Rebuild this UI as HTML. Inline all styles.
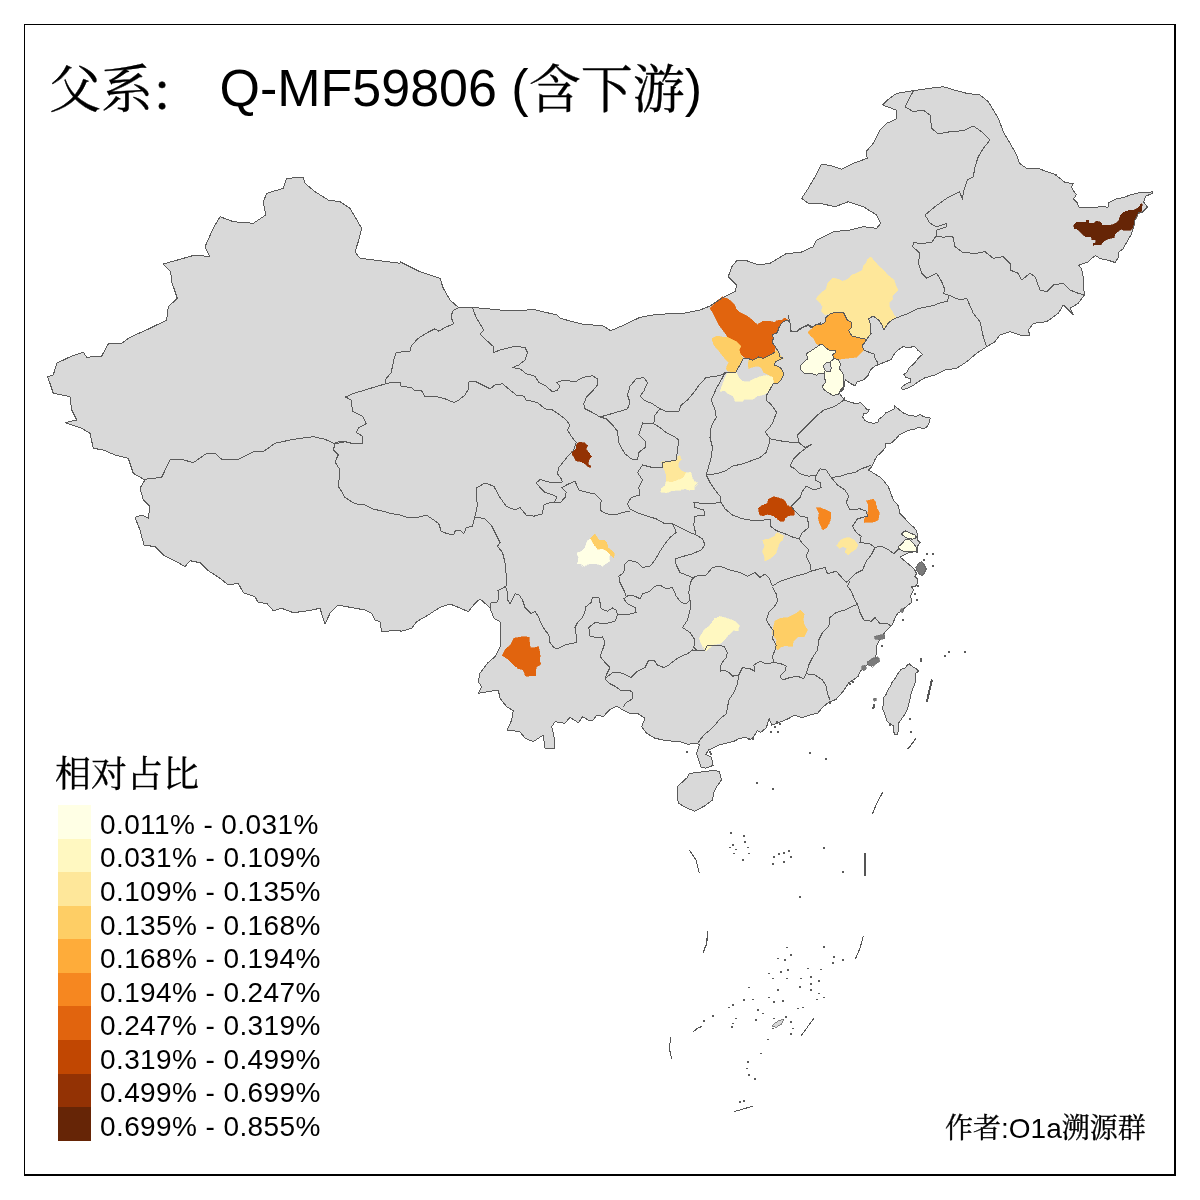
<!DOCTYPE html>
<html lang="zh"><head><meta charset="utf-8"><title>父系 Q-MF59806</title>
<style>
html,body{margin:0;padding:0;background:#fff;}
body{width:1200px;height:1200px;position:relative;overflow:hidden;font-family:"Liberation Sans","Noto Serif CJK SC",sans-serif;color:#000;}
.frame{position:absolute;left:24px;top:24px;width:1152px;height:1152px;border:solid #000;border-width:1px 2px 2px 1px;box-sizing:border-box;}
svg{position:absolute;left:0;top:0;}
.land{fill:#d9d9d9;stroke:none;}
.bd{fill:none;stroke:#5a5a5a;stroke-width:1;stroke-linejoin:round;}
.title{position:absolute;left:49px;top:54px;font-size:52px;line-height:60px;white-space:pre;}
.cj{font-family:"Noto Serif CJK SC","Liberation Serif",serif;-webkit-text-stroke:0.35px #000;}
.title .cj{position:relative;top:2px;}
.title .colon{position:relative;top:5px;left:-3px;}
.ltitle{position:absolute;left:55px;top:750px;font-size:36px;line-height:44px;white-space:pre;}
.sw{position:absolute;left:58px;width:33px;}
.lb{position:absolute;left:100px;font-size:28px;letter-spacing:0.4px;line-height:33.6px;height:33.6px;white-space:pre;margin-top:2.8px;}
.credit{position:absolute;left:945px;top:1108px;font-size:28px;line-height:36px;white-space:pre;}
</style></head><body>
<div class="frame"></div>
<svg width="1200" height="1200" viewBox="0 0 1200 1200" shape-rendering="crispEdges">
<path class="land" d="M143.3,500 140,488.3 145,480 133.3,473.3 128.3,458.3 115,455 103.3,450 93.3,448.3 90,433.3 81.7,428.3 65,422.7 76.7,420 71.7,410 70,396.7 53.3,393.3 47.7,376.7 53.3,375 56.7,363.3 71.7,356 83.3,352.3 86.7,357.3 101.7,356 108.3,344 121.7,343.3 130,337.3 150,328.3 166.7,320 168.3,306.7 177.3,298.3 171.7,281.7 170.7,271.7 163.3,264 180,259.3 195,255 210,256.7 205,246.7 213.3,228.3 220,216.7 233.3,221.7 253.3,223.3 265.7,215 263.3,201.7 266.7,193.3 283.3,188.3 286.7,178.3 303.3,177.3 305,183.3 315,191.7 328.3,200 340,201.7 350,208.3 361.7,228.3 358.3,241.7 355,251.7 360,258.3 380,260.7 400,263.3 400,261.7 420,271.7 440,278.3 443.3,288.3 450,300 458.3,307.3 471.7,307.3 500,310 521.7,310.7 533.3,309.3 556.7,315 560,318.3 581.7,324 603.3,326 610.7,330.7 621.7,326 640,317.3 656.7,314.3 683.3,313.3 700,310 710,306 721.7,298.3 735,291.7 736.7,285 728.3,276.7 731.7,266.7 736.7,260.7 746.7,260.7 758.3,265 770,263.3 786.7,253.3 800,252.7 813.3,246.7 816.7,240 833.3,231.7 850,230 863.3,226.7 876.7,228.3 880.7,223.3 876.7,215 863.3,206.7 848.3,201.7 835,206.7 820,203.3 808.3,203.3 801.7,198.3 808.3,188.3 815,176.7 821.7,164 831.7,166 841.7,169.3 853.3,163.3 867.3,158.3 866,151.7 873.3,143.3 880,130 886.7,123.3 896,119.3 896,110 882.7,105 888.3,99.3 896.7,93.3 913.3,90.7 930,88.3 943.3,86.7 956.7,90.7 966.7,93.3 980,95 988.3,101.7 993.3,110 998.3,118.3 1003.3,131.7 1010,143.3 1016.7,155 1019.3,163.3 1026.7,168.3 1038.3,168.3 1046.7,171.7 1056.7,175 1054,174 1059.5,178 1065,182.5 1073.5,183.5 1071.5,187 1074,191.5 1076.5,194.5 1073.5,199 1077,202.5 1079,207.2 1090,208 1102,206.5 1108,207.2 1109,202.5 1116,199 1124,197.5 1130,195 1140,192.5 1148,193 1152.5,191.5 1152.5,193.5 1146,196 1143.5,202 1147.5,207 1142.5,212 1138.5,213 1135,220 1133.5,228 1131,235 1128,240 1124.5,246 1123,249 1118,252.5 1118,258 1115,262.5 1109,260.5 1100,258.5 1095.5,255.5 1092,258 1088,262 1083,263.5 1078.5,265.5 1081.5,268.5 1083,276 1083.3,280 1084.3,295 1078.3,303.3 1070,308.3 1073.3,315 1063.3,305 1058.3,313.3 1046.7,321.7 1033.3,323.3 1028.3,330 1030,336 1020,335 1010,331.7 1000,335 995,341.7 986.7,346.7 976.7,353.3 966.7,361.7 956.7,368.3 945,370 935,375 923.3,378.3 925,377.8 919.2,381.2 913.3,385.3 908.7,387.7 902.2,390 901.7,387.1 906.3,383.6 910.4,382.4 911,378.3 906.3,377.8 903.8,374.2 906.9,372.5 909.2,367.8 915.1,362.6 918,358.5 922.4,354.4 918,350.3 914.5,346.6 908.7,347.4 902.8,346.8 897.6,350.3 894.1,354.4 891.2,359.7 886.5,361.4 880.7,363.8 874.8,366.1 870.2,370.2 867.8,376 863.2,380.1 857.3,381.8 855,385.9 849.8,383 845.1,379.5 844.7,385.3 842.8,390 839.2,392.9 841.6,396.4 845.1,400.5 850.3,402.2 855,403.4 860.8,402.8 864.3,406.3 866.7,409.2 869.6,409.2 867.8,412.8 863.8,413.9 862.6,416.8 864.9,420.3 869,422.7 873.7,423.2 877.8,422.7 878.9,419.2 883,416.2 885.9,412.8 890,411 894.7,408.7 894.7,405.8 899.3,409.8 904,413.3 909.8,415.7 916.8,416.2 920.3,414.5 923.8,416.8 930.2,418 929.1,422.7 926.8,426.8 923.2,429.1 919.2,427.3 914.5,429.1 908.7,430.2 904,432.6 899.3,434.9 895.8,439 891.2,443.1 885.9,443.7 885.3,447.8 881.8,451.8 877.2,455.9 874.8,460 871.7,466.7 868.3,470 875,474 881.7,478.3 888.3,486.7 893.3,500 898.5,506 900,513.5 904.5,518 908.2,522.5 913.5,527 916.5,530.8 917.7,535.2 917.2,539.8 920.2,542.8 917.2,546.5 918,552.2 913.5,551.8 907.5,553.2 903,555.5 900,557 904.5,560.8 909.8,565.2 914.2,569 916.5,573.5 915,576.5 918,579.5 917.2,584 915,587 911.2,586.2 913.5,590 910.5,596 912,602 908.2,605 904.5,608 901.5,611 897.8,613.2 894.8,618.5 892.5,624.5 889.5,627.5 886.5,630.5 883.5,634.2 880.5,638.8 878.2,642.5 876,647 876.8,653 874.5,659 871.5,662 867,665 860,671.7 858,676.5 848.8,682.9 843.3,691.2 836,699.4 828.7,702.2 822.2,707.7 817.7,713.2 810.3,715 802.1,717.8 794.8,715 788.3,718.7 781.9,721.4 777.3,723.2 771.8,725.1 769.1,718.7 766.3,727.8 760.8,732.4 757.2,730.6 753.5,737 749.8,739.8 745.2,737 738.8,738.8 733.3,741.6 725.1,743.4 718.7,745.2 713.2,748 708.6,749.8 705.8,754.4 711.3,757.2 713.2,765.4 705.8,768.2 701.2,767.2 698.5,759.9 696.7,753.5 699.4,744.3 695.8,743.4 687.5,744.3 680,741.7 666.7,740.7 655,738.3 646.7,733.3 641.7,726.7 645,718.3 637.3,713.3 630,713.3 622.7,710 616.7,706 609.3,710 603.3,716.7 596.7,715 593.3,720 588.3,720 582.7,716.7 578.3,722.7 570,717.3 565,723.3 555,721.7 551.7,726.7 554,736.7 555,748.3 545,748.3 543.3,735 533.3,741.7 525,738.3 520,731.7 507.3,730 511.7,720 513.3,710.7 506.7,706.7 500,698.3 498.3,690 488.3,691.7 478.3,693.3 481.7,686.7 478.3,681.7 480,673.3 487.3,663.3 495,656.7 500,646.7 500,633.3 500,621.7 494,618.3 490,608.3 485,603.3 480,599 475,603.3 468.3,611.7 458.3,607.3 450,604 440,607.3 428.3,615 416.7,621.7 411.7,628.3 400,631.7 400,630 381.7,631.7 380,621.7 375,620 371.7,613.3 365,610 350,607.3 338.3,605 330,613.3 325,624 320,608.3 308.3,610.7 293.3,612.7 281.7,608.3 273.3,610.7 266.7,603.3 258.3,602.7 255,596.7 243.3,592.7 238.3,583.3 228.3,585 220,578.3 208.3,570.7 200,562.7 190,560.7 185,566.7 176.7,561.7 163.3,555 155,546.7 144,545 140,530 135,517.3 141.7,515 148.3,518.3 150,506.7Z M909.5,664 913,667 916.5,669 918.5,671.2 916,673 915.5,677 915.8,681 914,686 911.5,692 910,699 908.5,705 907,710 904.5,715 901.5,719 899,722.5 898.5,727 898.5,731 897,734.5 894.5,734 893.5,731 893.5,726 891,724.5 887,721 885.5,717 884,712 882.5,709 883.5,704 883.5,698 886.5,694 887.5,690.5 890.5,686 892,682.5 895.5,678 898,673.5 901,669.5 905,668 907.5,665Z M677.4,786.5 687.5,777.3 689.3,773.7 696.7,772.2 705.8,771.8 714.1,770 719.6,771.8 721.4,780.1 716.8,786.5 714.1,792 712.2,800.2 704.9,805.8 694.8,811.2 685.7,807.6 678.3,803 677.4,795.7Z"/>
<path d="M1073.5,225 1076.5,222.2 1086,222 1086.2,220 1088.5,220 1088.8,223 1094,223 1096.5,221.2 1101,222.5 1102.5,225 1107,225.5 1112,224.8 1116.5,223 1119,220 1120.5,215 1123.5,212 1129,210.2 1134,210 1139,207.2 1141,203.5 1142.2,204 1141.5,211.5 1138.5,213 1137,217 1135,220 1134,226 1131,230 1125,230.5 1121,229.2 1118,231.5 1115,234 1114,237.5 1108,239 1104,241.2 1101,244.5 1095,244.8 1093,245.5 1093.2,243.5 1095.5,242.8 1095.5,240 1092,239.5 1091,237 1085.5,236.5 1082,234 1078,230 1074.5,228.5Z" fill="#662506" stroke="#662506" stroke-width="0.6"/>
<path d="M710,308 722,296.7 728.7,299.3 734.7,304.7 736,308.7 740,312.7 746,315.3 751.3,319.3 757.3,324.7 762.7,321.3 770.7,321.3 775.3,322.7 776,320.7 782,320 784.7,318 788,320 782.7,322 779.3,326.7 777.3,332.7 772.7,334.7 773.3,338.7 772,342 775.3,346.7 774.7,352 769.3,355.3 763.3,358 758.7,356.7 752.7,360 749.3,358.7 744,357.3 740,353.3 739.3,350 740.7,346 736,341.3 728,337.3 723.3,330.7 718.7,324.7 716,318.7 712.7,312.7Z" fill="#E1640E" stroke="#E1640E" stroke-width="0.6"/>
<path d="M712,338.7 717.3,336 723.3,337.3 728,337.3 736,341.3 740.7,346 739.3,350 740,353.3 743.3,358.7 740,364.7 736,372 728,371.3 726,368.7 728.7,362.7 723.3,356.7 718.7,350.7 714,345.3 712.7,341.3Z" fill="#FECE65" stroke="#FECE65" stroke-width="0.6"/>
<path d="M749.3,358.9 752.7,360.3 758.7,356.9 763.3,358.3 769.3,355.6 774.7,352.3 776.7,350 778.7,354 783.3,358.7 776,360.7 774,364.7 780.7,368 784,373.3 781.3,380 778,383.3 774,382.7 772.7,377.3 769.3,375.3 764,372.7 762,368.7 758.7,366 753.3,366.7 748.7,368.7 748,363.3Z" fill="#FECE65" stroke="#FECE65" stroke-width="0.6"/>
<path d="M728,372 736,372.3 738.7,377.3 742.7,381.3 748.7,382 754.7,378.7 760,376.7 766.7,375.3 772.7,377.3 773.3,382.7 769.3,390.7 764,394.7 757.3,396 752.7,399.3 744,399.3 742.7,401.3 735.3,401.3 733.3,396 728.7,394 724.7,390.7 720,391.3 722.7,384 724.7,378.7Z" fill="#FFF8C1" stroke="#FFF8C1" stroke-width="0.6"/>
<path d="M816,298.7 820.7,293.3 826,289.3 828,282.7 832.7,278 838.7,279.3 842.7,281.3 848.7,278.7 851.3,275.3 856.7,273.3 862.7,270 863.3,266 866.7,262.7 867.3,259.3 870.7,257.1 875.3,262 878.7,266 883.3,270 888,275.3 894,280 896,286 898,290 895.3,293.3 892,296 892.7,299.3 889.3,302 889.3,306.7 892,311.3 896,318 892,320 888,323.3 884,330 882,325.3 879.3,320.7 873.3,316 868.7,318.7 870,323.3 870,330.7 871.3,333.3 868,338 862.7,338.7 856.7,337.3 852,336 848.7,330.7 852,326.7 851.3,322 847.3,320 843.3,312 836,312 834,314 830,314 824.7,314.7 821.3,311.3 822.7,306.7 820,302.7Z" fill="#FEE79A" stroke="#FEE79A" stroke-width="0.6"/>
<path d="M808,332 812.7,328 815.3,324.7 821.3,324.7 825.3,322 826,317.3 830,314 836,312 843.3,312 847.3,320 851.3,322 852,326.7 848.7,330.7 852,336 856.7,337.3 862.7,338.7 866.7,339.3 864.7,342.7 862,345.3 864,350 860.7,353.3 856.7,357.3 848.7,358 843.3,358.7 838,359.3 834,358.7 832.7,354.7 836,352 835.3,350.7 830,350.7 826,348 822,344 820,345.3 816,343.3 813.3,338 810,335.3Z" fill="#FEAC3A" stroke="#FEAC3A" stroke-width="0.6"/>
<path d="M800,366 804.7,361.3 808,358.7 806,354 811.3,350.7 815.3,348 820,344.7 822,344 826,348 830,350.7 835.3,350.7 836,352 832.7,354.7 834,358.7 830,362 825.3,363.3 823.3,366 825.3,370.7 824,373.3 818.7,373.3 816.7,375.3 811.3,373.3 804.7,373.3 801.3,370.7Z" fill="#FFFFE5" stroke="#FFFFE5" stroke-width="0.6"/>
<path d="M834,358.7 838,359.3 840.7,364 839.3,368.7 842.7,372.7 844,376.7 843.3,382.7 844,386 840.7,390 838,394.7 832.7,395.3 827.3,392 823.3,389.3 822.7,386 825.3,382.7 824.7,376 824,373.3 825.3,370.7 830,372 831.3,368 830,362Z" fill="#FFFFE5" stroke="#FFFFE5" stroke-width="0.6"/>
<path d="M571.5,451 576,448.8 576.8,443.5 580.5,442 585,443.5 588,445.8 585.8,448.8 588.8,452.5 591.8,456.2 588.8,460 588,464.5 591,466 590.2,467.8 587.2,466 585,463.8 580.5,461.5 576,460.8 573.8,457 572.2,454Z" fill="#933204" stroke="#933204" stroke-width="0.6"/>
<path d="M660.8,462.2 667.5,461.2 675,460.8 677.7,459.7 678,456.2 680.2,455.8 680.7,459.2 681.8,459.7 678.8,461.5 678,466 681,470.5 686.2,472.8 683.2,478 678,480.2 672,482.2 666,481.8 666.5,475 663.8,468.2 663,464.5Z" fill="#FEE79A" stroke="#FEE79A" stroke-width="0.6"/>
<path d="M686.2,472.8 690.8,472.3 692.2,478 694.5,481.8 697.8,483.2 694.5,486.2 694.2,489.7 688.5,490 684,488.5 679.5,490 672,490.8 666.8,492.7 660.8,492.2 661.2,488.5 665.2,485.5 666,481.8 672,482.2 678,480.2 683.2,478Z" fill="#FFF8C1" stroke="#FFF8C1" stroke-width="0.6"/>
<path d="M590.2,538.8 594.8,533.8 597,537.2 599.2,540.2 604.5,540.2 606.8,542.5 608.2,547.8 612,550.8 614.7,553.8 613.5,557.5 609.8,554.5 606,550.8 602.2,549.2 597.8,550 594.8,546.2 592.5,542.5Z" fill="#FECE65" stroke="#FECE65" stroke-width="0.6"/>
<path d="M576.8,553 581.2,551.5 585,547.8 587.2,541 590.2,538.8 592.5,542.5 594.8,546.2 597.8,550 602.2,549.2 606,550.8 609.8,554.5 609,559 609.8,561.2 606,563.5 602.2,566.5 598.5,564.2 593.2,563.5 588,564.2 583.5,566.5 581.2,563.5 577.5,563.5 578.7,557.5Z" fill="#FFFFE5" stroke="#FFFFE5" stroke-width="0.6"/>
<path d="M758.3,508.3 762.5,505 767.5,503.3 768.3,499.2 774.2,496.7 780,498.3 784.2,500 787.5,505.8 791.7,507.5 794.2,510.8 794.2,515 788.3,515.8 785,518.3 784.2,521.3 780,521.3 776.7,518.3 772.5,515.8 767.5,514.2 763.3,515.8 759.7,515Z" fill="#C14702" stroke="#C14702" stroke-width="0.6"/>
<path d="M762.5,540 769.2,538.7 774.2,536.7 776.7,532.5 780.8,534.2 783.7,535.8 782.5,540 779.2,543.3 777.5,548.3 775.8,553.3 772.5,556.7 769.2,559.2 765,560.8 764.2,555 762.5,551.7 764.7,545.8Z" fill="#FEE79A" stroke="#FEE79A" stroke-width="0.6"/>
<path d="M816.3,507.5 820.8,508 825.8,510 830.8,512.5 830.8,517.5 829.2,523.3 826.7,527.5 823.3,529.7 821.7,527.5 819.7,523.3 818.3,518.3 819.2,513.3Z" fill="#F68720" stroke="#F68720" stroke-width="0.6"/>
<path d="M866.3,500.8 873.3,499.2 875.8,502.5 876.7,507.5 879.2,512.5 878.3,520 873.3,522 864.2,522.5 864.7,517.5 867.5,515.8 868.3,510 868.3,505Z" fill="#F68720" stroke="#F68720" stroke-width="0.6"/>
<path d="M836.7,545.8 840,540.8 844.2,538.3 849.2,537.5 854.2,540 858,545 855.8,549.2 851.7,551.7 848.3,554.7 845,552.5 846.7,548.3 842.5,546.7 839.7,548.3Z" fill="#FEE79A" stroke="#FEE79A" stroke-width="0.6"/>
<path d="M901.3,534.2 905,530.8 910,533 915,535 916.7,537.5 912.5,539.2 906.7,538Z" fill="#FFFFE5" stroke="#FFFFE5" stroke-width="0.6"/>
<path d="M898.3,546.7 902.5,543.3 905,539.7 910,540 914.2,544.2 916.7,548.3 916.3,551.7 910,552 904.2,551.7 900,549.7Z" fill="#FFFFE5" stroke="#FFFFE5" stroke-width="0.6"/>
<path d="M772.5,634.2 773.3,628.3 775,620.8 780,618.3 788.3,617.5 795,614.2 800.3,610.3 804.2,613.7 803.3,619.2 804.2,625 807.5,630 804.2,636.7 798.3,636.7 793.3,641.7 792.5,646.3 785,645.8 780,647.5 777.5,649.7 775.3,646.7 776.7,640Z" fill="#FECE65" stroke="#FECE65" stroke-width="0.6"/>
<path d="M502.2,655.8 505.7,648.8 510.3,645.3 513.8,638.3 523.2,636.5 529,637.2 530.2,647.7 534.8,647.7 538.8,646.5 540.2,654.7 539.5,661.7 541.1,664 536,667.5 535.5,675.7 525.5,676.1 523.2,669.8 517.3,668.2 511.5,662.8 506.8,658.2Z" fill="#E1640E" stroke="#E1640E" stroke-width="0.6"/>
<path d="M699.3,638.3 704,630.2 709.8,625.5 714.5,618.5 719.2,616.2 727.3,618.5 734.3,620.8 739,625.5 737.8,630.9 733.2,630.2 728.5,634.8 723.8,640.7 720.3,643.5 714.5,644.2 709.8,647.7 706.3,651.2 702.8,646.5 700.5,641.8Z" fill="#FFF8C1" stroke="#FFF8C1" stroke-width="0.6"/>
<path class="bd" d="M145,479.3 161.7,477.3 170,460 181.7,459.3 193.3,462.7 206.7,453.3 215,453.3 221.7,459.3 238.3,459.3 253.3,451.7 263.3,451.7 275,443.3 293.3,439.3 313.3,436.7 325,439.3 335,444 M353.3,444 345,441.7 335,444 333.3,450 338.3,455 335,461.7 340,470 338.3,486.7 M457.5,308 452.5,311.2 451.2,317.5 453.8,323.8 445,327.5 438.8,331.2 435,328.8 427.5,332.5 417.5,338.8 411.2,346.2 410,351.2 396.2,352.5 393.8,360 391.2,372.5 385,380 385.5,383.8 M385.5,383.8 377.5,386.2 365,390 352.5,393.8 345.5,397 351.2,400 352.5,411.2 362.5,416.2 366.2,423.8 358.8,427.5 356.2,432.5 362.5,436.2 362.5,443.8 353.8,443.8 343.8,441.2 335,442.5 M385.5,383.8 393.8,382 400,382.5 401.2,386.2 411.2,387.5 413.8,390 421.2,390 425,397 435,396.2 445,398.8 453.8,402.5 458.8,400 465,395 468,390 468.8,382 475,381.2 482.5,385 490,388.8 495,385 502.5,383.8 510,390 516.2,395 523.8,396.2 526.2,400 537.5,402.5 545,408.8 552.5,410 560,415 566.2,420 570,425 567.5,430 571.2,436.2 576.2,442.5 573.8,450 568.8,455 563.8,461.2 558.8,467.5 557.5,473.8 561.2,478.8 562.5,482 552.5,483 540,479.5 536.2,483 540,487.5 545,492.5 552,494.5 557,497 554.5,502 M554.5,502 560,503 565,497.5 566.2,492.5 562,487.5 568.8,483.8 575,481.2 578.8,490 587.5,492.5 595,493.8 601.2,500 600,510 606.2,513.8 615,515 622.5,512.5 630,511.2 M554.5,502 550,502.5 543.8,505 542.5,513.8 533.8,516.2 526.2,515 520,507.5 515,510 506.2,506.2 500,497.5 493.8,486.2 485,483 477,487.5 476.2,497.5 477.5,505 475,516.2 M338.5,487 340,488.8 345,497.5 355,503.8 365,505 372.5,508.8 382.5,511.2 392.5,513.8 400,515 407.5,517.5 417.5,517.5 426.2,515 433.8,520 438.8,523.8 441.2,531.2 447.5,533.8 453.8,535 455.5,530 460,530 463.8,533.8 466.2,527.5 472.5,526.2 475,516.2 M472.5,308 476.2,317.5 483.8,330 480,333.8 487.5,341.2 493,346.2 493.8,352.5 500,350 505,348.8 515,346.2 525,347.5 527.5,352.5 525,360 518.8,365 512.5,367.5 520,368.8 526.2,373.8 535,376.2 538.8,382.5 546.2,386.2 552.5,392 557.5,390 560,386.2 556.2,382.5 565,380 575,382 582.5,377.5 592.5,375.8 597.5,378.8 597.5,385 592.5,391.2 586.2,397.5 583.8,403.8 585,408.8 592.5,412.5 600,417 M600,417 611.2,413.8 620,411 M600,417 606.2,418.8 612.5,425 617.5,431.2 618.8,442.5 621.2,447.5 M475,517 485,518.8 491.2,525 496.2,535 500,542.5 497.5,546.2 502.5,552.5 505,562.5 506.2,575 507,585 505.5,586.2 M490,607.5 491.2,602 496.2,603 498.8,598.8 498,590.5 503.8,587.5 505.5,586.2 M505.5,586.2 507.5,592.5 507,598.8 510,603.8 512.5,598.8 515,593.8 518.8,594.5 522.5,600 525,607.5 531.2,613.8 535,611.2 538.8,617.5 541.2,623.8 545,630 548.8,635 550,642.5 553.8,647.5 557.5,648.8 565,645 570,643.8 576.2,642.5 576.2,635 575,627.5 577.5,622.5 582.5,617.5 585,611.2 585,607.5 591.2,602.5 592.5,597.5 598.8,597 600,602.5 601.2,608.8 607.5,611.2 612.5,608 616.2,610 617.5,615 M617.5,615 615,621.2 605,623.8 595,622.5 588.8,627.5 590,636.2 596.2,637.5 602.5,637 605,642.5 602.5,650 600,656.2 605,662.5 610,667.5 606.2,675 605,678.8 M605,678.8 610,683.8 615,686.2 620,690 628.8,690 633,692.5 632.5,698.8 626.2,702.5 623.2,707 M605,678.8 612.5,672.5 620,672.5 626.2,675 631.2,677.5 637.5,671.2 645,667.5 648.8,660 653.8,660 657.5,665 663.8,667.5 668.8,665 675,660 681.2,656.2 687.5,653.8 692.5,650 697.5,651.2 M617.5,615 627.5,614.5 636.2,612.5 635,607.5 627.5,603.8 623.8,598.8 628.8,595 635,596.2 640,598.8 642.5,593.8 650,591.2 655,586.2 660,585 666.2,588.8 672.5,587.5 676.2,596.2 681.2,602.5 686.2,603.8 690,600 M690,600 690,610 687.5,620 682.5,627.5 690,632.5 695,640 693.8,647.5 697.5,651.2 M626.2,596.2 623.8,590 620,582.5 618.8,576.2 623.8,572.5 625,563.8 628.8,560 637.5,562.5 642.5,567.5 650,566.2 655,560 660,551.2 665,543.8 670,537.5 676.2,532.5 673.8,526.2 672.5,523.8 M690,600 688.8,592.5 690,585 692.5,577.5 686.2,575 680,572.5 676.2,565 675,558.8 683.8,556.2 692.5,553.8 701.2,550 705,545 702.5,538.8 696.2,535 M630,509.2 640,513.8 647.5,516.2 656.2,518.8 665,523.8 672.5,523.8 680,527.5 690,532.5 696.2,535 M620,411.2 627.5,408.8 630,402.5 627.5,395 630,386.2 636.2,378.8 643.8,377.5 647.5,382.5 643.8,391.2 640,396.2 643.8,400 652.5,403.8 660,408.8 M660,408.8 667.5,412 678.8,411.2 681.2,405 687.5,400 693.8,392.5 700,383.8 706.2,377.5 716.2,376.2 722.5,374.5 725,372.5 M660,408.8 655,415 653.8,423.8 660,427.5 666.2,432.5 673.8,436.2 678.8,440 677.5,450 676.2,460 662.5,462.5 662.5,467.5 652.5,467.5 642.5,465 637.5,472.5 642.5,480 638.8,487.5 640,495 631.2,497.5 627.5,503.8 630,508.8 M653.8,423.8 642.5,423 638.8,435 645,441.2 645,447.5 638.8,452.5 637.5,460 631.2,458.8 625,453.8 621.2,447.5 M725,372.5 721.2,380 716.2,388.8 711.2,400 715,410 716.2,417.5 711.2,426.2 710,437.5 712.5,447.5 711.2,457.5 708.8,466.2 706.2,475 M706.2,475 716.2,473.8 725,471.2 732.5,466.2 742.5,463.8 750,461.2 760,457.5 766.2,452.5 768.8,445 770,438.8 M770,438.8 782.5,441.2 792.5,442.5 798.8,442.5 M798.8,442.5 797.5,435 803.8,428.8 810,422.5 816.2,416.2 823.8,410 835,406.2 842.5,401.2 845,397.5 M798.8,442.5 805,447.5 811.2,444.5 800,452.5 793.8,458.8 790,466.2 795,468.8 800,473.8 808.8,476.2 816.2,475 M816.2,475 820,468.8 826.2,470 831.2,477.5 840,476.2 847.5,473.8 855,472.5 861.2,468.8 868.8,466.2 870.8,465 M816.2,475 815,480 820,482.5 821.2,487.5 813.8,490 806.2,486.2 802.5,491.2 800,497.5 795,502.5 791.2,506.2 795,511.2 800,516.2 807.5,517.5 808.8,527.5 802.5,532.5 798.8,538.8 M706.2,475 710,482.5 715,490 720,496.2 721.2,502.5 725,508.8 732.5,515 742.5,518.8 750,520 760,520.5 770,519.2 770.5,526.2 776.2,530.5 785,533.8 792.5,537 798.8,538.8 M721.2,502.5 707.5,503.8 693.8,502.5 695,507.5 703.8,510 705,515 695,516.2 693.8,525 696,535 M798.8,538.8 803.8,545 808.8,550 806.2,556.2 810,563.8 811.2,571.2 M831.2,477.5 837.5,485 845,490 848.8,496.2 846.2,502.5 850,510 860,508.8 866.2,511.2 867.5,516.2 857.5,518.8 852.5,526.2 856.2,532.5 861.2,536.2 860,542.5 870,543.8 875,547.5 M875,547.5 881.2,546.2 888.8,550 893.8,553.8 898.8,548.8 M875,547.5 871.2,555 866.2,561.2 862.5,570 855,573.8 848.8,580 846.2,582.5 M811.2,571.2 820,568.8 825,567.5 827.5,573.8 836.2,571.2 846.2,582.5 M811.2,571.2 805,573.8 795,576.2 787.5,578.8 780,581.2 772.5,586.2 M772.5,586.2 768.8,577.5 765,573.8 760,577.5 755,572.5 747.5,576.2 740,572.5 730,570 720,566.2 712.5,567.5 706.2,575 695,576.2 690,582.5 M772.5,587.5 776.2,593.8 777.5,601.2 773.8,607.5 768.8,612.5 766.2,620 770,626.2 773.8,631.2 772.5,638.8 776.2,645 775,650 772.5,656.2 773.8,662.5 M773.8,662.5 766.2,663.8 760,661.2 753.8,665 755,671.2 750,668.8 742.5,667.5 738.8,675 732.5,676.2 728.8,672.5 723.8,670 720,671.2 721.2,663.8 726.2,657.5 727.5,652.5 723.8,646.2 715,645 707.5,645 705,650 697.5,651 M738.8,675 737.5,683.8 733.8,692.5 728.8,700 727.5,707.5 726.2,713.8 720,718.8 715,725 710,730 703.8,735 700,740 697.5,743.8 M773.8,662.5 781.2,663.8 786.2,666.2 785,671.2 780,676.2 782.5,680 790,677.5 797.5,676.2 803.8,678.8 806.2,673.8 M806.2,673.8 808.8,665 812.5,657.5 817.5,650 818.8,640 822.5,632.5 828.8,626.2 830,617.5 836.2,612.5 845,610 852.5,606.2 857.5,604.5 M806.2,673.8 815,675 822.5,680 826.2,686.2 827.5,693.8 830,700 M857.5,604.5 860,612.5 863.8,620 871.2,621.2 875,617.5 880,623.8 887.5,623.8 891.2,626.2 M857.5,604.5 853.8,597.5 851.2,591.2 847.5,586.2 850,581.2 M913.3,91 905,106.7 913.3,111.7 923.3,110 930,115 931.7,128.3 938.3,134 950,131.7 963.3,130.7 973.3,126 981.7,131.7 990,140 983.3,148.3 978.3,156.7 975,166.7 973.3,176.7 967.3,180 963.3,191.7 962.7,199.3 959.3,191.7 946.7,198.3 935,206.7 925,215 930,223.3 936.7,226.7 946.7,223.3 946.7,226.7 936.7,230 936,236 M936,236 943.3,237.3 952.7,236 955,246.7 963.3,252.7 976.7,253.3 985,251.7 993.3,258.3 1003.3,256.7 1010,263.3 1010,270 1018.3,273.3 1021.7,280 1030,273.3 1035,276.7 1040,290 1046.7,291.7 1053.3,285 1063.3,283.3 1070,290 1078.3,293.3 1084.3,295 M936,236 931.7,242.7 920,243.3 913.3,242.7 912.7,246.7 920,253.3 918.3,263.3 921.7,273.3 926.7,278.3 936.7,273.3 941.7,281.7 945,290 943.3,293.3 948.3,295 M948.3,295 960,300 966.7,298.3 973.3,313.3 980,321.7 983.3,336.7 986.7,346.7 M948.7,296 947.3,301.3 940.7,302.7 934,305.3 928.7,306.7 923.3,307.3 916,309.3 910,312.7 903.3,315.3 896,318 892,320 888,323.3 884,330 882,325.3 879.3,320.7 873.3,316 868.7,318.7 870,323.3 870,330.7 871.3,333.3 866.7,339.3 M866.7,339.3 864.7,342.7 862,345.3 864,350 870,352.7 874,354 875.3,358.7 878,363.3 876.7,365.3 M788,314.7 790,323.3 791.3,331.3 796.7,332 803.3,326.7 808,324.7 811.3,328 815.3,324.7 821.3,324.7 825.3,322 826,317.3 830,314 836,312 843.3,312 847.3,320 851.3,322 852,326.7 848.7,330.7 852,336 856.7,337.3 862.7,338.7 866.7,339.3 M800,366 804.7,361.3 808,358.7 806,354 811.3,350.7 815.3,348 820,344.7 822,344 826,348 830,350.7 835.3,350.7 836,352 832.7,354.7 834,358.7 830,362 825.3,363.3 823.3,366 825.3,370.7 824,373.3 818.7,373.3 816.7,375.3 811.3,373.3 804.7,373.3 801.3,370.7 800,366 M834,358.7 838,359.3 840.7,364 839.3,368.7 842.7,372.7 844,376.7 843.3,382.7 844,386 840.7,390 838,394.7 832.7,395.3 827.3,392 823.3,389.3 822.7,386 825.3,382.7 824.7,376 824,373.3 825.3,370.7 830,372 831.3,368 830,362 834,358.7 M898.3,546.7 902.5,543.3 905,539.7 910,540 914.2,544.2 916.7,548.3 916.3,551.7 910,552 904.2,551.7 900,549.7 898.3,546.7 M901.3,534.2 905,530.8 910,533 915,535 916.7,537.5 912.5,539.2 906.7,538 901.3,534.2 M788,320 790.7,324 790.7,331.3 796,332 800,328.7 806.7,326 810.7,325.3 812,327.3 816,324.7 820.7,322.9 M788,320 782.7,322 779.3,326.7 777.3,332.7 772.7,334.7 773.3,338.7 772,342 775.3,346.7 778.7,352 780,357.3 783.3,358 776,361.3 774,364.7 780.7,368 784,373.3 781.3,380 778,383.3 773.3,383.3 769.3,390.7 766,396 766.7,400.7 770.7,404 774.7,409.3 776.7,412.7 774.7,417.3 772.7,422.7 769.3,428 765.3,432 770,438.7 M774.7,352.3 769.3,355.6 763.3,358.3 758.7,356.9 752.7,360.3 749.3,358.9 743.3,358.7 740,364.7 736,372 728,372 724.7,373.3"/>
<path class="bd" d="M143.3,500 140,488.3 145,480 133.3,473.3 128.3,458.3 115,455 103.3,450 93.3,448.3 90,433.3 81.7,428.3 65,422.7 76.7,420 71.7,410 70,396.7 53.3,393.3 47.7,376.7 53.3,375 56.7,363.3 71.7,356 83.3,352.3 86.7,357.3 101.7,356 108.3,344 121.7,343.3 130,337.3 150,328.3 166.7,320 168.3,306.7 177.3,298.3 171.7,281.7 170.7,271.7 163.3,264 180,259.3 195,255 210,256.7 205,246.7 213.3,228.3 220,216.7 233.3,221.7 253.3,223.3 265.7,215 263.3,201.7 266.7,193.3 283.3,188.3 286.7,178.3 303.3,177.3 305,183.3 315,191.7 328.3,200 340,201.7 350,208.3 361.7,228.3 358.3,241.7 355,251.7 360,258.3 380,260.7 400,263.3 400,261.7 420,271.7 440,278.3 443.3,288.3 450,300 458.3,307.3 471.7,307.3 500,310 521.7,310.7 533.3,309.3 556.7,315 560,318.3 581.7,324 603.3,326 610.7,330.7 621.7,326 640,317.3 656.7,314.3 683.3,313.3 700,310 710,306 721.7,298.3 735,291.7 736.7,285 728.3,276.7 731.7,266.7 736.7,260.7 746.7,260.7 758.3,265 770,263.3 786.7,253.3 800,252.7 813.3,246.7 816.7,240 833.3,231.7 850,230 863.3,226.7 876.7,228.3 880.7,223.3 876.7,215 863.3,206.7 848.3,201.7 835,206.7 820,203.3 808.3,203.3 801.7,198.3 808.3,188.3 815,176.7 821.7,164 831.7,166 841.7,169.3 853.3,163.3 867.3,158.3 866,151.7 873.3,143.3 880,130 886.7,123.3 896,119.3 896,110 882.7,105 888.3,99.3 896.7,93.3 913.3,90.7 930,88.3 943.3,86.7 956.7,90.7 966.7,93.3 980,95 988.3,101.7 993.3,110 998.3,118.3 1003.3,131.7 1010,143.3 1016.7,155 1019.3,163.3 1026.7,168.3 1038.3,168.3 1046.7,171.7 1056.7,175 1054,174 1059.5,178 1065,182.5 1073.5,183.5 1071.5,187 1074,191.5 1076.5,194.5 1073.5,199 1077,202.5 1079,207.2 1090,208 1102,206.5 1108,207.2 1109,202.5 1116,199 1124,197.5 1130,195 1140,192.5 1148,193 1152.5,191.5 1152.5,193.5 1146,196 1143.5,202 1147.5,207 1142.5,212 1138.5,213 1135,220 1133.5,228 1131,235 1128,240 1124.5,246 1123,249 1118,252.5 1118,258 1115,262.5 1109,260.5 1100,258.5 1095.5,255.5 1092,258 1088,262 1083,263.5 1078.5,265.5 1081.5,268.5 1083,276 1083.3,280 1084.3,295 1078.3,303.3 1070,308.3 1073.3,315 1063.3,305 1058.3,313.3 1046.7,321.7 1033.3,323.3 1028.3,330 1030,336 1020,335 1010,331.7 1000,335 995,341.7 986.7,346.7 976.7,353.3 966.7,361.7 956.7,368.3 945,370 935,375 923.3,378.3 925,377.8 919.2,381.2 913.3,385.3 908.7,387.7 902.2,390 901.7,387.1 906.3,383.6 910.4,382.4 911,378.3 906.3,377.8 903.8,374.2 906.9,372.5 909.2,367.8 915.1,362.6 918,358.5 922.4,354.4 918,350.3 914.5,346.6 908.7,347.4 902.8,346.8 897.6,350.3 894.1,354.4 891.2,359.7 886.5,361.4 880.7,363.8 874.8,366.1 870.2,370.2 867.8,376 863.2,380.1 857.3,381.8 855,385.9 849.8,383 845.1,379.5 844.7,385.3 842.8,390 839.2,392.9 841.6,396.4 845.1,400.5 850.3,402.2 855,403.4 860.8,402.8 864.3,406.3 866.7,409.2 869.6,409.2 867.8,412.8 863.8,413.9 862.6,416.8 864.9,420.3 869,422.7 873.7,423.2 877.8,422.7 878.9,419.2 883,416.2 885.9,412.8 890,411 894.7,408.7 894.7,405.8 899.3,409.8 904,413.3 909.8,415.7 916.8,416.2 920.3,414.5 923.8,416.8 930.2,418 929.1,422.7 926.8,426.8 923.2,429.1 919.2,427.3 914.5,429.1 908.7,430.2 904,432.6 899.3,434.9 895.8,439 891.2,443.1 885.9,443.7 885.3,447.8 881.8,451.8 877.2,455.9 874.8,460 871.7,466.7 868.3,470 875,474 881.7,478.3 888.3,486.7 893.3,500 898.5,506 900,513.5 904.5,518 908.2,522.5 913.5,527 916.5,530.8 917.7,535.2 917.2,539.8 920.2,542.8 917.2,546.5 918,552.2 913.5,551.8 907.5,553.2 903,555.5 900,557 904.5,560.8 909.8,565.2 914.2,569 916.5,573.5 915,576.5 918,579.5 917.2,584 915,587 911.2,586.2 913.5,590 910.5,596 912,602 908.2,605 904.5,608 901.5,611 897.8,613.2 894.8,618.5 892.5,624.5 889.5,627.5 886.5,630.5 883.5,634.2 880.5,638.8 878.2,642.5 876,647 876.8,653 874.5,659 871.5,662 867,665 860,671.7 858,676.5 848.8,682.9 843.3,691.2 836,699.4 828.7,702.2 822.2,707.7 817.7,713.2 810.3,715 802.1,717.8 794.8,715 788.3,718.7 781.9,721.4 777.3,723.2 771.8,725.1 769.1,718.7 766.3,727.8 760.8,732.4 757.2,730.6 753.5,737 749.8,739.8 745.2,737 738.8,738.8 733.3,741.6 725.1,743.4 718.7,745.2 713.2,748 708.6,749.8 705.8,754.4 711.3,757.2 713.2,765.4 705.8,768.2 701.2,767.2 698.5,759.9 696.7,753.5 699.4,744.3 695.8,743.4 687.5,744.3 680,741.7 666.7,740.7 655,738.3 646.7,733.3 641.7,726.7 645,718.3 637.3,713.3 630,713.3 622.7,710 616.7,706 609.3,710 603.3,716.7 596.7,715 593.3,720 588.3,720 582.7,716.7 578.3,722.7 570,717.3 565,723.3 555,721.7 551.7,726.7 554,736.7 555,748.3 545,748.3 543.3,735 533.3,741.7 525,738.3 520,731.7 507.3,730 511.7,720 513.3,710.7 506.7,706.7 500,698.3 498.3,690 488.3,691.7 478.3,693.3 481.7,686.7 478.3,681.7 480,673.3 487.3,663.3 495,656.7 500,646.7 500,633.3 500,621.7 494,618.3 490,608.3 485,603.3 480,599 475,603.3 468.3,611.7 458.3,607.3 450,604 440,607.3 428.3,615 416.7,621.7 411.7,628.3 400,631.7 400,630 381.7,631.7 380,621.7 375,620 371.7,613.3 365,610 350,607.3 338.3,605 330,613.3 325,624 320,608.3 308.3,610.7 293.3,612.7 281.7,608.3 273.3,610.7 266.7,603.3 258.3,602.7 255,596.7 243.3,592.7 238.3,583.3 228.3,585 220,578.3 208.3,570.7 200,562.7 190,560.7 185,566.7 176.7,561.7 163.3,555 155,546.7 144,545 140,530 135,517.3 141.7,515 148.3,518.3 150,506.7Z M909.5,664 913,667 916.5,669 918.5,671.2 916,673 915.5,677 915.8,681 914,686 911.5,692 910,699 908.5,705 907,710 904.5,715 901.5,719 899,722.5 898.5,727 898.5,731 897,734.5 894.5,734 893.5,731 893.5,726 891,724.5 887,721 885.5,717 884,712 882.5,709 883.5,704 883.5,698 886.5,694 887.5,690.5 890.5,686 892,682.5 895.5,678 898,673.5 901,669.5 905,668 907.5,665Z M677.4,786.5 687.5,777.3 689.3,773.7 696.7,772.2 705.8,771.8 714.1,770 719.6,771.8 721.4,780.1 716.8,786.5 714.1,792 712.2,800.2 704.9,805.8 694.8,811.2 685.7,807.6 678.3,803 677.4,795.7Z"/>
<path d="M882.7,792.3 876.7,803.3 872.3,814.3" fill="none" stroke="#555" stroke-width="1.0"/>
<path d="M865,853.3 865,875.7" fill="none" stroke="#555" stroke-width="1.6"/>
<path d="M863.3,936 860,948.3 855.3,959.3" fill="none" stroke="#555" stroke-width="1.0"/>
<path d="M814.3,1017.7 801,1036" fill="none" stroke="#555" stroke-width="1.0"/>
<path d="M753.3,1106 734,1111.7" fill="none" stroke="#555" stroke-width="1.0"/>
<path d="M670.7,1037.3 669.3,1048.3 671.7,1059" fill="none" stroke="#555" stroke-width="1.0"/>
<path d="M707.7,931 706.7,943.3 703.3,952.7" fill="none" stroke="#555" stroke-width="1.3"/>
<path d="M689.3,850 696,860 699.3,872.7" fill="none" stroke="#555" stroke-width="1.0"/>
<path d="M932,679.5 926.8,702" fill="none" stroke="#555" stroke-width="2"/>
<path d="M916,738.5 907.5,749.5" fill="none" stroke="#555" stroke-width="1.3"/>
<path d="M756,783.3h1.8 M771.7,789.3h1.8 M822.7,847.7h1.8 M841.7,871.7h1.8 M799.3,896.7h1.8 M739.3,1101.7h1.8 M743.3,1100.7h1.8 M730,832.7h1.8 M743.3,836h1.8 M731.7,845h1.8 M735,849.3h1.8 M746.7,847.3h1.8 M748.3,853.3h1.8 M733.3,853.3h1.8 M741.7,860h1.8 M744,841.7h1.8 M729.3,847.3h1.8 M773.3,856.7h1.8 M778.3,854h1.8 M783.3,852.7h1.8 M788.3,850.7h1.8 M782.7,861.7h1.8 M771.7,864h1.8 M790,856.7h1.8 M786,947.3h1.8 M790,955h1.8 M784,960h1.8 M776.7,958.3h1.8 M823.3,946.7h1.8 M833.3,956.7h1.8 M841.7,960h1.8 M831.7,962.7h1.8 M820,969.3h1.8 M806.7,968.3h1.8 M786.7,970h1.8 M780,971.7h1.8 M768.3,973.3h1.8 M771.7,978.3h1.8 M786,978.3h1.8 M800,978.3h1.8 M810,976.7h1.8 M818.3,980.7h1.8 M810,984h1.8 M799.3,986.7h1.8 M810,990h1.8 M818.3,993.3h1.8 M822.7,997.3h1.8 M816,999.3h1.8 M748.3,987.3h1.8 M776.7,990h1.8 M768.3,997.3h1.8 M773.3,1001.7h1.8 M781.7,1000.7h1.8 M743.3,1000h1.8 M751.7,999.3h1.8 M731.7,1005h1.8 M728.3,1007.3h1.8 M796.7,1008.3h1.8 M801.7,1007.3h1.8 M761.7,1013.3h1.8 M756.7,1010h1.8 M755,1020h1.8 M735,1018.3h1.8 M731.7,1023.3h1.8 M730.7,1026.7h1.8 M773.3,1018.3h1.8 M785,1016.7h1.8 M790,1021.7h1.8 M791.7,1028.3h1.8 M771.7,1028.3h1.8 M790,1034h1.8 M766.7,1039.3h1.8 M760,1053.3h1.8 M711.7,1016h1.8 M703.3,1020.7h1.8 M746.7,1061.7h1.8 M746,1068.3h1.8 M748.3,1075h1.8 M754,1079h1.8" fill="none" stroke="#5a5a5a" stroke-width="1.6"/>
<path d="M693.3,1031.7 698.3,1027.7 701.7,1026.7" fill="none" stroke="#555" stroke-width="1.2"/>
<path d="M771.7,1026 778.3,1020.7 784,1019.3 781.7,1024 776,1027.3 Z" fill="#d9d9d9" stroke="#555" stroke-width="0.7"/>
<path d="M915.8,567.5 918.8,563 921.8,561.5 924,564.5 926.2,569 924,573.5 921.8,575.8 918.8,573.5 916.8,570.5 Z" fill="#7a7a7a" stroke="#6a6a6a" stroke-width="1"/>
<path d="M925.5,554h2 M931.5,554.3h2 M923.2,560h2 M931.5,566h2 M915.8,599.8h2 M902.2,620h2 M880.5,645.5h2 M948,651.8h2 M943.8,656h2 M919.5,659.8h2 M917.2,585.5h2 M914.2,593.8h2" fill="none" stroke="#5a5a5a" stroke-width="2"/>
<path d="M900,610.2 902.2,608 903.8,611 902.2,613.2 Z" fill="#7a7a7a" stroke="#6a6a6a" stroke-width="0.6"/>
<path d="M874.8,636.2 883.5,635.8 883.8,638.8 875.4,638.8 Z" fill="#7a7a7a" stroke="#6a6a6a" stroke-width="0.6"/>
<path d="M867,662.8 872.2,658.2 878.2,656.8 879.3,661.2 873.8,664.2 869.2,665.8 Z" fill="#7a7a7a" stroke="#6a6a6a" stroke-width="0.6"/>
<path d="M862.5,666.5 865.8,665.8 865.5,669.5 862.8,669.8 Z" fill="#7a7a7a" stroke="#6a6a6a" stroke-width="0.6"/>
<path d="M809.4,752.6h2 M825,759h2 M756.2,783.2h2 M771.5,789.4h2 M685.7,752h2 M873.6,699.4h2 M872.7,706.8h2 M770,732.4h2 M777.3,731.5h2 M773.7,726.9h2 M779.2,724.2h2 M775.5,722.3h2 M748,738.8h2 M751.7,739.2h2 M708.6,751.7h2 M710.4,753.5h2 M851.6,682h2 M848.8,683.8h2 M828.7,703.1h2" fill="none" stroke="#5a5a5a" stroke-width="2"/>
<path d="M944,656h2 M948,652h2 M964,652h2 M919.5,658.5h2 M919.8,661h2 M873,704.5h2 M871.5,707.8h2 M909,719h2 M909.8,731.5h2 M889,725.3h2" fill="none" stroke="#5a5a5a" stroke-width="2"/>
<path d="M872.8,699 874.5,698 876.5,699 876.2,700.8 874,701.2 Z" fill="#7a7a7a" stroke="#6a6a6a" stroke-width="0.6"/>
<path d="M874.5,636.2 880,635 884.5,634.5 884.8,638.5 880,639.8 875,639.2 Z" fill="#7a7a7a" stroke="#6a6a6a" stroke-width="0.6"/>
<path d="M867.5,661.5 872.5,658.5 879,658 879.5,661.5 875,664.5 871.5,667 868.5,665 Z" fill="#7a7a7a" stroke="#6a6a6a" stroke-width="0.6"/>
<path d="M862,666 865,665 866.5,668 864,671 861.8,669.5 Z" fill="#7a7a7a" stroke="#6a6a6a" stroke-width="0.6"/>
</svg>
<div class="title"><span class="cj">父系</span><span class="cj colon">：</span> Q-MF59806 (<span class="cj">含下游</span>)</div>
<div class="ltitle cj">相对占比</div>
<div class="sw" style="top:805.00px;height:33.87px;background:#FFFFE5"></div>
<div class="lb" style="top:805.00px">0.011% - 0.031%</div>
<div class="sw" style="top:838.57px;height:33.87px;background:#FFF8C1"></div>
<div class="lb" style="top:838.57px">0.031% - 0.109%</div>
<div class="sw" style="top:872.14px;height:33.87px;background:#FEE79A"></div>
<div class="lb" style="top:872.14px">0.109% - 0.135%</div>
<div class="sw" style="top:905.71px;height:33.87px;background:#FECE65"></div>
<div class="lb" style="top:905.71px">0.135% - 0.168%</div>
<div class="sw" style="top:939.28px;height:33.87px;background:#FEAC3A"></div>
<div class="lb" style="top:939.28px">0.168% - 0.194%</div>
<div class="sw" style="top:972.85px;height:33.87px;background:#F68720"></div>
<div class="lb" style="top:972.85px">0.194% - 0.247%</div>
<div class="sw" style="top:1006.42px;height:33.87px;background:#E1640E"></div>
<div class="lb" style="top:1006.42px">0.247% - 0.319%</div>
<div class="sw" style="top:1039.99px;height:33.87px;background:#C14702"></div>
<div class="lb" style="top:1039.99px">0.319% - 0.499%</div>
<div class="sw" style="top:1073.56px;height:33.87px;background:#933204"></div>
<div class="lb" style="top:1073.56px">0.499% - 0.699%</div>
<div class="sw" style="top:1107.13px;height:33.87px;background:#662506"></div>
<div class="lb" style="top:1107.13px">0.699% - 0.855%</div>
<div class="credit"><span class="cj">作者</span>:O1a<span class="cj">溯源群</span></div>
</body></html>
